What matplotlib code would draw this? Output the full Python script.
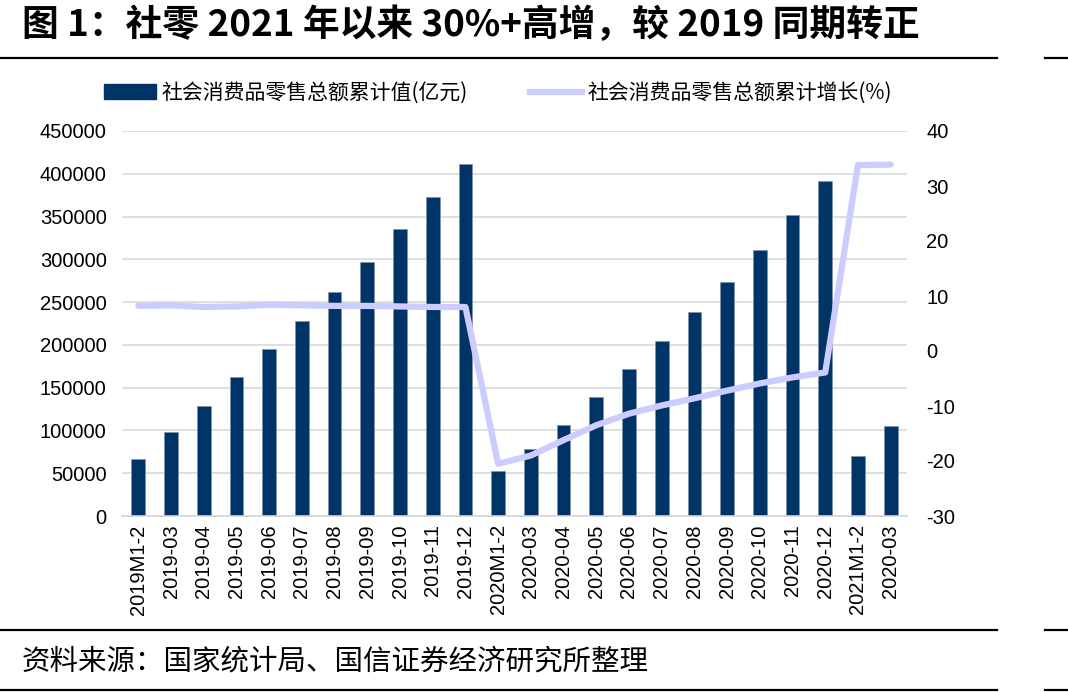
import matplotlib
matplotlib.use("Agg")
import matplotlib.pyplot as plt
from matplotlib.lines import Line2D
from matplotlib.patches import Patch

plt.rcParams['font.family'] = ['Liberation Sans', 'Noto Sans CJK SC', 'DejaVu Sans']
plt.rcParams['axes.unicode_minus'] = False

categories = ["2019M1-2", "2019-03", "2019-04", "2019-05", "2019-06", "2019-07",
              "2019-08", "2019-09", "2019-10", "2019-11", "2019-12",
              "2020M1-2", "2020-03", "2020-04", "2020-05", "2020-06", "2020-07",
              "2020-08", "2020-09", "2020-10", "2020-11", "2020-12",
              "2021M1-2", "2020-03"]
retail_total = [66064, 97790, 128116, 162000, 195210, 227872, 261800, 296700,
                335000, 372872, 411649,
                52130, 78580, 106758, 138697, 172256, 204459, 238459, 273324,
                311405, 352000, 391981,
                69737, 105221]
retail_growth = [8.2, 8.3, 8.0, 8.1, 8.4, 8.3, 8.2, 8.2, 8.1, 8.0, 8.0,
                 -20.5, -19.0, -16.2, -13.5, -11.4, -9.9, -8.6, -7.2, -5.9, -4.8, -3.9,
                 33.8, 33.9]

bar_color = "#003366"
line_color = "#CCCCFF"

fig = plt.figure(figsize=(10.68, 6.92), dpi=100)
ax = fig.add_axes([122 / 1068, 1 - 516 / 692, 785 / 1068, 385 / 692])
ax2 = ax.twinx()

x = list(range(len(categories)))
ax.bar(x, retail_total, width=0.42, color=bar_color, edgecolor="#7f93aa", linewidth=0.5, zorder=3)
ax.set_ylim(0, 450000)
ax.set_yticks(range(0, 450001, 50000))
ax.set_xlim(-0.5, len(categories) - 0.5)
ax.set_xticks(x)
ax.set_xticklabels(categories, rotation=90, fontsize=14.5)
ax.tick_params(axis="y", labelsize=14.5, length=0, pad=11)
ax.tick_params(axis="x", length=0, pad=6)
ax.grid(axis="y", color="#d9d9d9", linewidth=1.2, zorder=0)
ax.set_axisbelow(True)

ax2.plot(x, retail_growth, color=line_color, linewidth=4.5, solid_joinstyle="round",
         solid_capstyle="round", zorder=4)
ax2.set_ylim(-30, 40)
ax2.set_yticks(range(-30, 41, 10))
ax2.tick_params(axis="y", labelsize=14.5, length=0, pad=14)

for a in (ax, ax2):
    for s in ("top", "left", "right"):
        a.spines[s].set_visible(False)
    a.spines["bottom"].set_color("#d9d9d9")
    a.spines["bottom"].set_linewidth(1.2)

handles = [Patch(facecolor=bar_color, edgecolor=bar_color),
           Line2D([0], [0], color=line_color, linewidth=4.5)]
labels = ["社会消费品零售总额累计值(亿元)", "社会消费品零售总额累计增长(%)"]
fig.legend(handles, labels, loc="center", bbox_to_anchor=(0.466, 1 - 93 / 692), ncol=2,
           frameon=False, handlelength=2.5, handleheight=0.75,
           handletextpad=0.25, columnspacing=3.0,
           prop={"family": ["Noto Sans CJK SC", "DejaVu Sans"], "size": 15})

fig.text(22 / 1068, 1 - 26 / 692, "图 1：社零 2021 年以来 30%+高增，较 2019 同期转正",
         fontsize=26.5, fontweight="bold", va="center", ha="left",
         family=["Noto Sans CJK SC", "DejaVu Sans"])
fig.text(22 / 1068, 1 - 662 / 692, "资料来源：国家统计局、国信证券经济研究所整理",
         fontsize=20.5, va="center", ha="left",
         family=["Noto Sans CJK SC", "DejaVu Sans"])

for yy in (58, 630, 690):
    fig.add_artist(Line2D([0, 997 / 1068], [1 - yy / 692] * 2, color="black", linewidth=1.6))
    fig.add_artist(Line2D([1045 / 1068, 1], [1 - yy / 692] * 2, color="black", linewidth=1.6))

fig.savefig("out.png", dpi=100)
